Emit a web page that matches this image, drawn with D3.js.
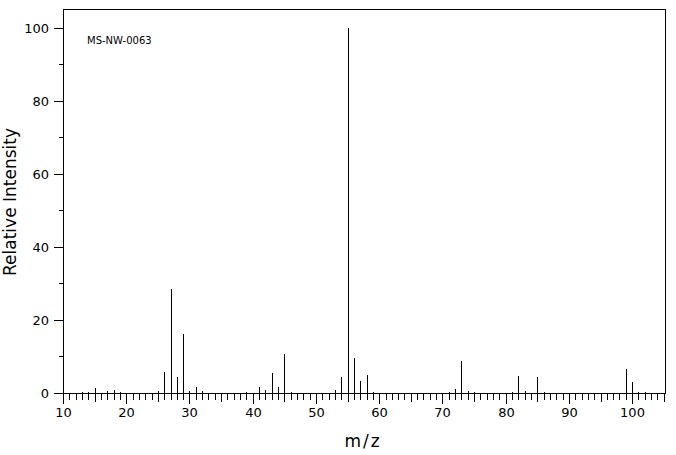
<!DOCTYPE html>
<html>
<head>
<meta charset="utf-8">
<script src="https://cdn.jsdelivr.net/npm/d3@7"></script>
<style>
  body { margin: 0; background: #fff; }
  svg text { font-family: "DejaVu Sans", sans-serif; fill: #000; }
</style>
</head>
<body>
<svg id="chart" width="676" height="455"></svg>
<script>
const width = 676, height = 455;

// peak positions (m/z) and relative intensities
const mz = [13, 14, 15, 17, 18, 19, 25, 26, 27, 28, 29, 30, 31, 32, 39, 41, 42, 43, 44, 45, 46,
    53, 54, 55, 56, 57, 58, 59, 71, 72, 73, 74, 75, 81, 82, 83, 85, 86, 99, 100, 101, 102];
const intensity = [0.2, 0.4, 1.4, 0.5, 0.9, 0.3, 0.6, 5.7, 28.5, 4.4, 16.2, 0.5, 1.6, 0.5, 0.3, 1.6, 0.7, 5.5, 1.6, 10.7, 0.3,
    0.9, 4.4, 100, 9.6, 3.3, 4.9, 0.3, 0.3, 1.1, 8.8, 0.5, 0.3, 0.3, 4.7, 0.5, 4.4, 0.3, 6.6, 3.0, 0.3, 0.3];

const xTicks = d3.range(10, 106);
const yTicks = d3.range(0, 101, 10);
const sampleId = "MS-NW-0063";

const margin = { left: 63, top: 9, right: 11, bottom: 62 };

const svg = d3.select("#chart");

const x = d3.scaleLinear().domain([10, 105.2]).range([margin.left, width - margin.right]);
const y = d3.scaleLinear().domain([0, 105.2]).range([height - margin.bottom, margin.top]);

const px = v => Math.round(v) + 0.5;

// frame
svg.append("rect")
    .attr("x", px(x(10)))
    .attr("y", px(y(105.2)))
    .attr("width", Math.round(x(105.2)) - Math.round(x(10)))
    .attr("height", Math.round(y(0)) - Math.round(y(105.2)))
    .attr("fill", "none")
    .attr("stroke", "#000")
    .attr("shape-rendering", "crispEdges");

// x axis
const xAxis = svg.append("g")
    .attr("transform", "translate(0," + Math.round(y(0)) + ")")
    .call(d3.axisBottom(x)
        .tickValues(xTicks)
        .tickSize(6)
        .tickFormat(d => d % 10 === 0 ? d : ""));

xAxis.select(".domain").remove();
xAxis.selectAll(".tick line")
    .attr("y1", 0.5)
    .attr("y2", d => d % 10 === 0 ? 10.5 : d % 5 === 0 ? 8.5 : 6.5)
    .attr("shape-rendering", "crispEdges");
xAxis.selectAll(".tick")
    .attr("transform", d => "translate(" + px(x(d)) + ",0)");
xAxis.selectAll(".tick text")
    .attr("y", 15)
    .attr("font-size", 13)
    .attr("font-family", "DejaVu Sans");

// y axis
const yAxis = svg.append("g")
    .attr("transform", "translate(" + Math.round(x(10)) + ",0)")
    .call(d3.axisLeft(y)
        .tickValues(yTicks)
        .tickSize(10)
        .tickFormat(d => d % 20 === 0 ? d : ""));

yAxis.select(".domain").remove();
yAxis.selectAll(".tick")
    .attr("transform", d => "translate(0," + px(y(d)) + ")");
yAxis.selectAll(".tick line")
    .attr("x1", 0.5)
    .attr("x2", d => d % 20 === 0 ? -9.5 : -4.5)
    .attr("shape-rendering", "crispEdges");
yAxis.selectAll(".tick text")
    .attr("x", -14)
    .attr("font-size", 13)
    .attr("font-family", "DejaVu Sans");

// peaks
svg.append("g")
    .selectAll("line")
    .data(mz)
    .join("line")
    .attr("x1", d => px(x(d)))
    .attr("x2", d => px(x(d)))
    .attr("y1", Math.round(y(0)))
    .attr("y2", (d, i) => Math.round(y(intensity[i])))
    .attr("stroke", "#000")
    .attr("stroke-width", 1)
    .attr("shape-rendering", "crispEdges");

// sample id
svg.append("text")
    .attr("x", 87)
    .attr("y", 44)
    .attr("font-family", "DejaVu Sans Mono")
    .attr("font-size", 10)
    .text(sampleId);

// axis titles
svg.append("text")
    .attr("x", 363)
    .attr("y", 447)
    .attr("text-anchor", "middle")
    .attr("font-size", 17)
    .attr("letter-spacing", 2)
    .text("m/z");

svg.append("text")
    .attr("transform", "translate(16,202) rotate(-90)")
    .attr("text-anchor", "middle")
    .attr("font-size", 17)
    .text("Relative Intensity");
</script>
</body>
</html>
